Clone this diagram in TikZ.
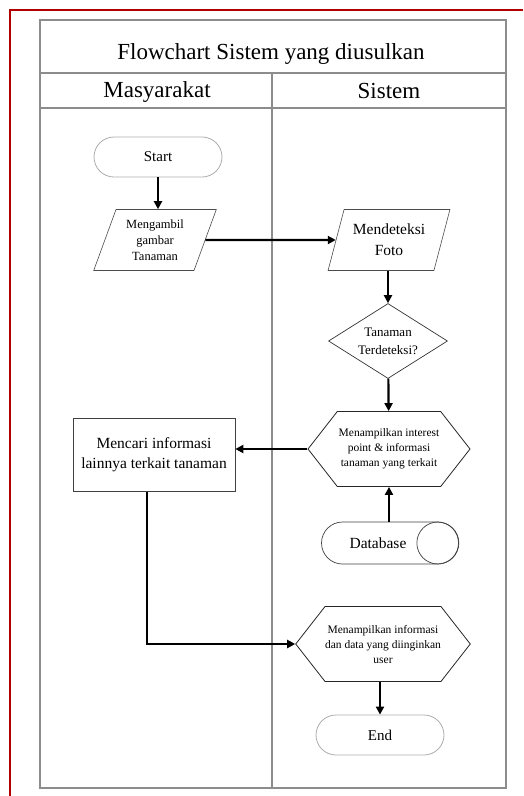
\documentclass[tikz,border=0pt]{standalone}
\usepackage{fontspec}
\setmainfont{Liberation Serif}
\usepackage{tikz}
\usetikzlibrary{shapes.geometric,shapes.symbols,arrows.meta}

\definecolor{lanegray}{HTML}{8C8C8C}
\definecolor{edgered}{HTML}{B00000}

\tikzset{
  lane/.style={draw=lanegray, line width=1.3pt},
  lanehead/.style={anchor=base, font=\fontsize{23}{26}\selectfont},
  terminal/.style={draw=gray!65, line width=0.8pt, rounded corners=20pt,
    minimum width=128pt, minimum height=40pt, font=\fontsize{15}{18}\selectfont},
  io/.style={trapezium, trapezium left angle=68, trapezium right angle=112,
    trapezium stretches=true, draw=black!70, line width=0.6pt, align=center,
    minimum width=123pt, minimum height=61pt, inner sep=0pt},
  decision/.style={diamond, aspect=1.6, draw=black!80, line width=0.7pt,
    minimum width=119pt, minimum height=75pt, inner sep=0pt, align=center,
    font=\fontsize{13}{18}\selectfont},
  display/.style={signal, signal to=west and east, signal pointer angle=104,
    draw=black!85, line width=0.8pt, minimum width=162pt, minimum height=75pt,
    inner sep=0pt, align=center, font=\fontsize{11.5}{15}\selectfont},
  process/.style={rectangle, draw=black!75, line width=0.7pt, minimum width=162pt,
    minimum height=73pt, align=center, font=\fontsize{15.5}{20}\selectfont},
  store/.style={rectangle, rounded corners=21pt, draw=black!75, line width=0.7pt,
    minimum width=137pt, minimum height=42pt, font=\fontsize{15.5}{18}\selectfont},
  flow/.style={-{Triangle[length=8pt,width=8pt]}, line width=2.2pt, black}
}

\begin{document}
\begin{tikzpicture}[x=1pt,y=-1pt]
  \useasboundingbox (0,0) rectangle (523,796);
  \draw[edgered, line width=1.3pt] (10,796) -- (10,10) -- (523,10);

  % swimlanes
  \draw[lane] (40,20) rectangle (506,788);
  \draw[lane] (40,73) -- (506,73);
  \draw[lane] (40,108) -- (506,108);
  \draw[lane] (272,73) -- (272,788);
  \node[lanehead] (title) at (271,59) {Flowchart Sistem yang diusulkan};
  \node[lanehead] (masy) at (157,97) {Masyarakat};
  \node[lanehead] (sist) at (389,98) {Sistem};

  \node[terminal] (start) at (158,157) {Start};
  \node[io, font=\fontsize{12.5}{16}\selectfont] (ambil) at (155,240) {Mengambil\\gambar\\Tanaman};
  \node[io, font=\fontsize{15.5}{21}\selectfont] (deteksi) at (389,240) {Mendeteksi\\Foto};
  \node[decision] (cek) at (388,341) {Tanaman\\Terdeteksi?};
  \node[display] (tampil) at (389,449) {Menampilkan interest\\point \& informasi\\tanaman yang terkait};
  \node[process] (cari) at (154,455) {Mencari informasi\\lainnya terkait tanaman};
  \node[store] (db) at (390,543) {Database\hspace*{24pt}};
  \draw[black!75, line width=0.7pt] ([xshift=-21pt]db.east) circle (21);
  \node[display] (hasil) at (383,644) {Menampilkan informasi\\dan data yang diinginkan\\user};
  \node[terminal] (end) at (380,735) {End};

  \draw[flow] (start) -- (start |- ambil.north);
  \draw[flow] (ambil.east) -- (deteksi.west);
  \draw[flow] (cek.north |- deteksi.south) -- (cek);
  \draw[flow] (cek) -- (tampil);
  \draw[flow] (tampil.south |- db.north) -- (tampil.south);
  \draw[flow] (tampil.west) -- (tampil.west -| cari.east);
  \draw[flow] ([xshift=-7pt]cari.south) |- (hasil.west);
  \draw[flow] (hasil.south -| end.north) -- (end);
\end{tikzpicture}
\end{document}
